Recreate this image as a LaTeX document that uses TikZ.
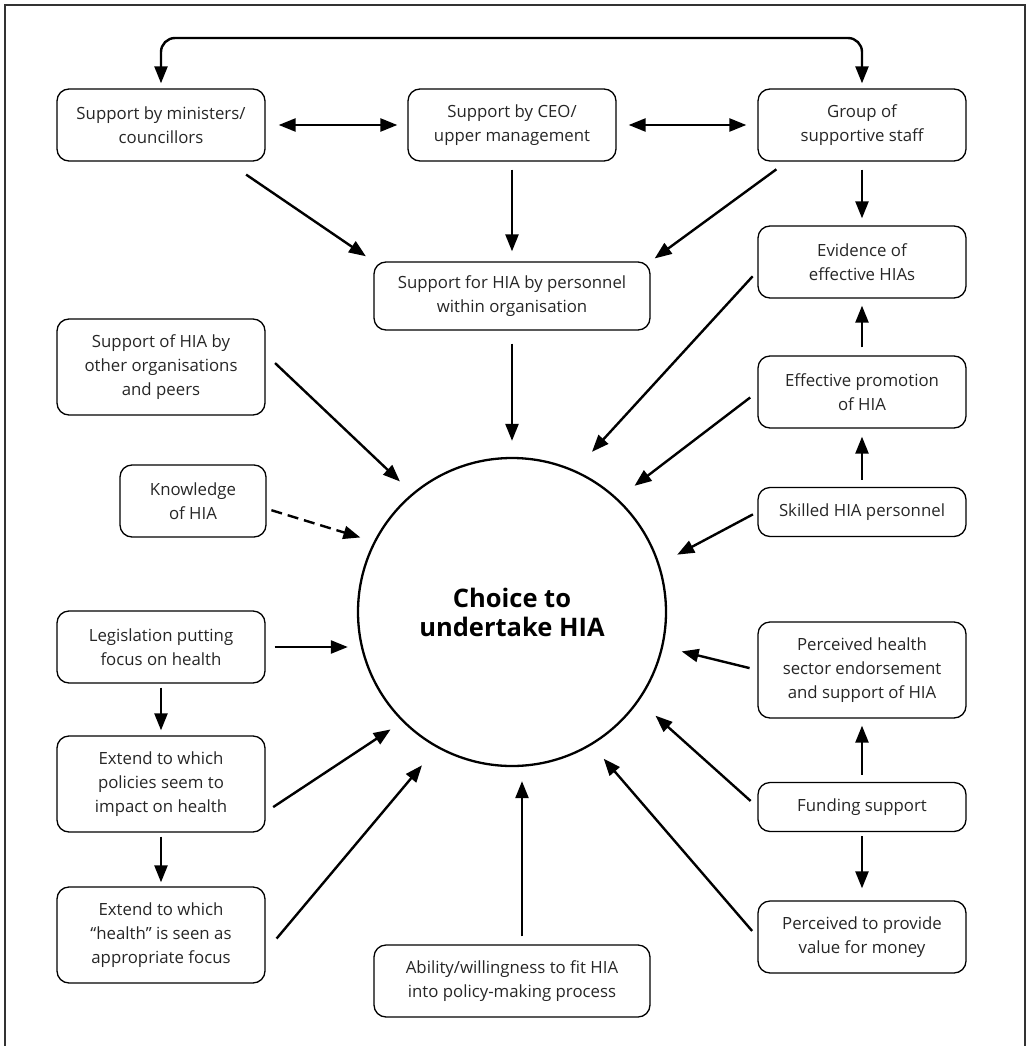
\documentclass[tikz,border=0pt]{standalone}
\usepackage{fontspec}
\setmainfont{Open Sans}
\usetikzlibrary{arrows.meta}

\begin{document}
\begin{tikzpicture}
 [x=1pt, y=-1pt,
  box/.style={draw, rounded corners=12pt, line width=1.3pt, minimum width=208pt, align=center, inner sep=0pt, text=black!85, font=\fontsize{16.8}{24}\selectfont},
  one line/.style={box, minimum height=49pt},
  two lines/.style={box, minimum height=72pt},
  three lines/.style={box, minimum height=96pt},
  hub/.style={circle, draw, line width=2.3pt, minimum size=308pt, align=center, font=\fontsize{25.5}{29}\selectfont\bfseries},
  arr/.style={-{Triangle[length=17pt,width=13pt]}, line width=2.4pt},
  both/.style={{Triangle[length=17pt,width=13pt]}-{Triangle[length=17pt,width=13pt]}, line width=2.4pt}]

 \useasboundingbox (0,0) rectangle (1026,1046);
 \draw[line width=1.3pt, black!80] (5,1046) -- (5,5) -- (1025,5) -- (1025,1046);

 \node[hub] (circ) at (512,612) {Choice to\\undertake HIA};

 % top row
 \node[two lines] (ceo) [above of=circ, node distance=487pt] {Support by CEO/\\upper management};
 \node[two lines] (mins) [left of=ceo, node distance=351pt] {Support by ministers/\\councillors};
 \node[two lines] (grp) [right of=ceo, node distance=350pt] {Group of\\supportive staff};
 \node[two lines, minimum width=276pt, minimum height=68pt] (supp) [below of=ceo, node distance=171pt] {Support for HIA by personnel\\within organisation};

 % right column
 \node[two lines] (evid) [below of=grp, node distance=137pt] {Evidence of\\effective HIAs};
 \node[two lines] (promo) [below of=evid, node distance=130pt] {Effective promotion\\of HIA};
 \node[one line] (skill) [below of=promo, node distance=120pt] {Skilled HIA personnel};
 \node[three lines] (phealth) [below of=skill, node distance=158pt] {Perceived health\\sector endorsement\\and support of HIA};
 \node[one line] (fund) [below of=phealth, node distance=137pt] {Funding support};
 \node[two lines] (value) [below of=fund, node distance=130pt] {Perceived to provide\\value for money};

 % left column
 \node[three lines] (other) [below of=mins, node distance=242pt] {Support of HIA by\\other organisations\\and peers};
 \node[two lines, minimum width=146pt] (know) [below of=other, node distance=134pt, xshift=32pt] {Knowledge\\of HIA};
 \node[two lines] (legis) [below of=other, node distance=280pt] {Legislation putting\\focus on health};
 \node[three lines] (ext1) [below of=legis, node distance=137pt] {Extend to which\\policies seem to\\impact on health};
 \node[three lines] (ext2) [below of=ext1, node distance=151pt] {Extend to which\\``health'' is seen as\\appropriate focus};

 \node[two lines, minimum width=276pt] (abil) [below of=circ, node distance=369pt] {Ability/willingness to fit HIA\\into policy-making process};

 \coordinate (loop) at (512,38);
 \draw[both, rounded corners=14pt, shorten <=5pt, shorten >=5pt] (mins.north) |- (loop) -| (grp.north);

 \path
  (mins.east) edge[both, shorten <=13pt, shorten >=10pt] (ceo.west)
  (ceo.east) edge[both, shorten <=12pt, shorten >=11pt] (grp.west)

  (mins.331) edge[arr, shorten <=23pt, shorten >=9pt] (supp.north west)
  (ceo) edge[arr, shorten <=8pt, shorten >=10pt] (supp)
  (grp.206) edge[arr, shorten <=13pt, shorten >=5pt] (supp.north east)
  (grp) edge[arr, shorten <=8pt, shorten >=7pt] (evid)
  (supp) edge[arr, shorten <=13pt, shorten >=16pt] (circ)

  (other.7) edge[arr, shorten <=13pt, shorten >=17pt] (circ.130)
  (know.354) edge[arr, dash pattern=on 11pt off 6pt, shorten <=5pt, shorten >=14pt] (circ.153)
  (legis.east) edge[arr, shorten <=9pt, shorten >=9pt] (legis.east -| circ.west)
  (legis) edge[arr, shorten <=4pt, shorten >=5pt] (ext1)
  (ext1) edge[arr, shorten <=4pt, shorten >=4pt] (ext2)
  (ext1.345) edge[arr, shorten <=9pt, shorten >=14pt] (circ.225)
  (ext2.351) edge[arr, shorten <=17pt, shorten >=23pt] (circ.241)
  ([xshift=10pt]abil.north) edge[arr, shorten <=8pt, shorten >=14pt] ([xshift=10pt]circ.south)

  (evid.185) edge[arr, shorten <=7pt, shorten >=25pt] (circ.66)
  (promo) edge[arr, shorten <=8pt, shorten >=7pt] (evid)
  (promo.west) edge[arr, shorten <=9pt, shorten >=21pt] (circ.47)
  (skill) edge[arr, shorten <=7pt, shorten >=8pt] (promo)
  (skill.west) edge[arr, shorten <=5pt, shorten >=20pt] (circ.18)
  (phealth.west) edge[arr, shorten <=8pt, shorten >=19pt] (circ.347)
  (fund) edge[arr, shorten <=7pt, shorten >=7pt] (phealth)
  (fund) edge[arr, shorten <=4pt, shorten >=12pt] (value)
  (fund.west) edge[arr, shorten <=9pt, shorten >=22pt] (circ.325)
  (value.west) edge[arr, shorten <=8pt, shorten >=18pt] (circ.301);

\end{tikzpicture}
\end{document}
